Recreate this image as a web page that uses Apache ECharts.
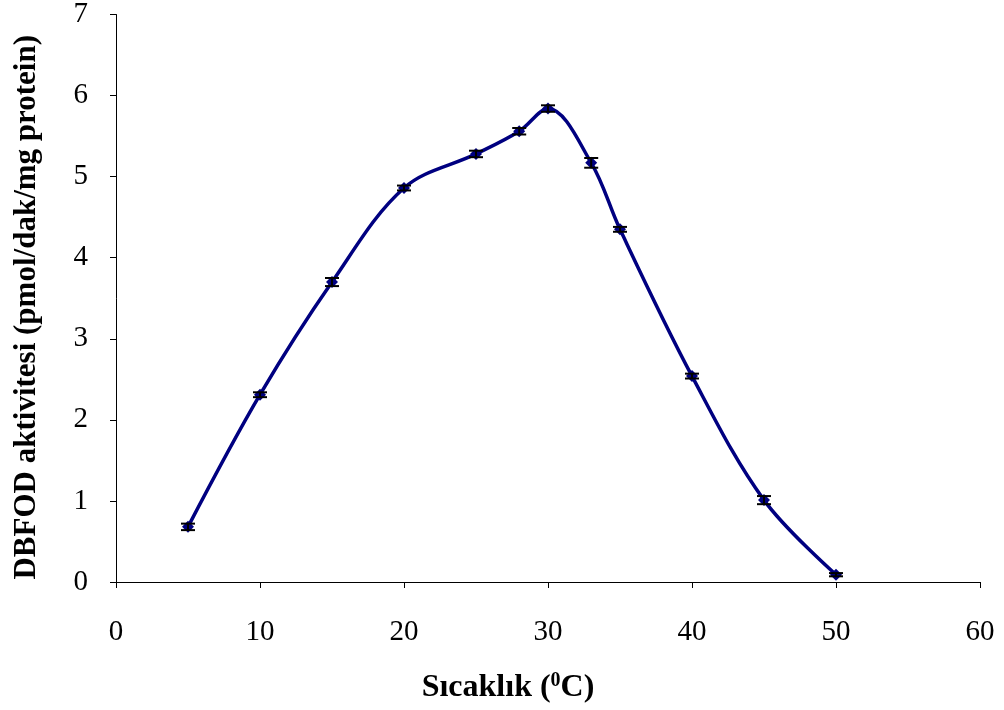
<!DOCTYPE html>
<html><head><meta charset="utf-8">
<script src="https://cdn.jsdelivr.net/npm/echarts@6/dist/echarts.min.js"></script>
<style>html,body{margin:0;padding:0;background:#fff}#c{width:1004px;height:710px}</style>
</head><body><div id="c"></div>
<script>
const temps = [5, 10, 15, 20, 25, 28, 30, 33, 35, 40, 45, 50];
const activity = [0.68, 2.31, 3.70, 4.86, 5.28, 5.56, 5.84, 5.17, 4.35, 2.54, 1.01, 0.09];
const errors = [0.04, 0.03, 0.05, 0.03, 0.04, 0.04, 0.04, 0.06, 0.03, 0.03, 0.05, 0.02];
const xTicks = [0, 10, 20, 30, 40, 50, 60];
const yTicks = [0, 1, 2, 3, 4, 5, 6, 7];

const font = '"Liberation Serif", "Times New Roman", serif';
const chart = echarts.init(document.getElementById('c'), null, {renderer: 'canvas'});
const lineData = temps.map((t, i) => [t, activity[i]]);
const errData = temps.map((t, i) => [t, activity[i] - errors[i], activity[i] + errors[i]]);

chart.setOption({
  animation: false,
  backgroundColor: '#fff',
  grid: {left: 116, right: 24, top: 14, bottom: 128, containLabel: false},
  xAxis: {
    type: 'value', min: xTicks[0], max: xTicks[xTicks.length - 1], interval: 10,
    axisLine: {show: true, onZero: false, lineStyle: {color: '#000', width: 1}},
    axisTick: {show: true, length: 6, lineStyle: {color: '#000'}},
    splitLine: {show: false},
    axisLabel: {color: '#000', fontFamily: font, fontSize: 29, margin: 36},
    name: 'Sıcaklık ({sup|0}C)',
    nameLocation: 'middle', nameGap: 89,
    nameTextStyle: {color: '#000', fontFamily: font, fontSize: 32, fontWeight: 'bold',
      padding: [0, 80, 0, 0],
      rich: {sup: {fontFamily: font, fontSize: 20, fontWeight: 'bold', verticalAlign: 'top', padding: [0, 0, 14, 0]}}}
  },
  yAxis: {
    type: 'value', min: yTicks[0], max: yTicks[yTicks.length - 1], interval: 1,
    axisLine: {show: true, lineStyle: {color: '#000', width: 1}},
    axisTick: {show: true, length: 6, lineStyle: {color: '#000'}},
    splitLine: {show: false},
    axisLabel: {color: '#000', fontFamily: font, fontSize: 29, margin: 28},
    name: 'DBFOD aktivitesi (pmol/dak/mg protein)',
    nameLocation: 'middle', nameGap: 74, nameRotate: 90,
    nameTextStyle: {color: '#000', fontFamily: font, fontSize: 31, fontWeight: 'bold',
      padding: [0, 18, 0, 0]}
  },
  series: [
    {
      type: 'line', data: lineData, smooth: 0.35,
      lineStyle: {color: '#000080', width: 3.5},
      symbol: 'diamond', symbolSize: 12,
      itemStyle: {color: '#000080'}, z: 2
    },
    {
      type: 'custom', data: errData, z: 3,
      renderItem: function (params, api) {
        const x = api.value(0);
        const lo = api.coord([x, api.value(1)]);
        const hi = api.coord([x, api.value(2)]);
        const w = 7;
        const st = {stroke: '#000', lineWidth: 2};
        return {type: 'group', children: [
          {type: 'line', shape: {x1: lo[0], y1: lo[1], x2: hi[0], y2: hi[1]}, style: st},
          {type: 'line', shape: {x1: lo[0] - w, y1: lo[1], x2: lo[0] + w, y2: lo[1]}, style: st},
          {type: 'line', shape: {x1: hi[0] - w, y1: hi[1], x2: hi[0] + w, y2: hi[1]}, style: st}
        ]};
      }
    }
  ]
});
</script></body></html>
